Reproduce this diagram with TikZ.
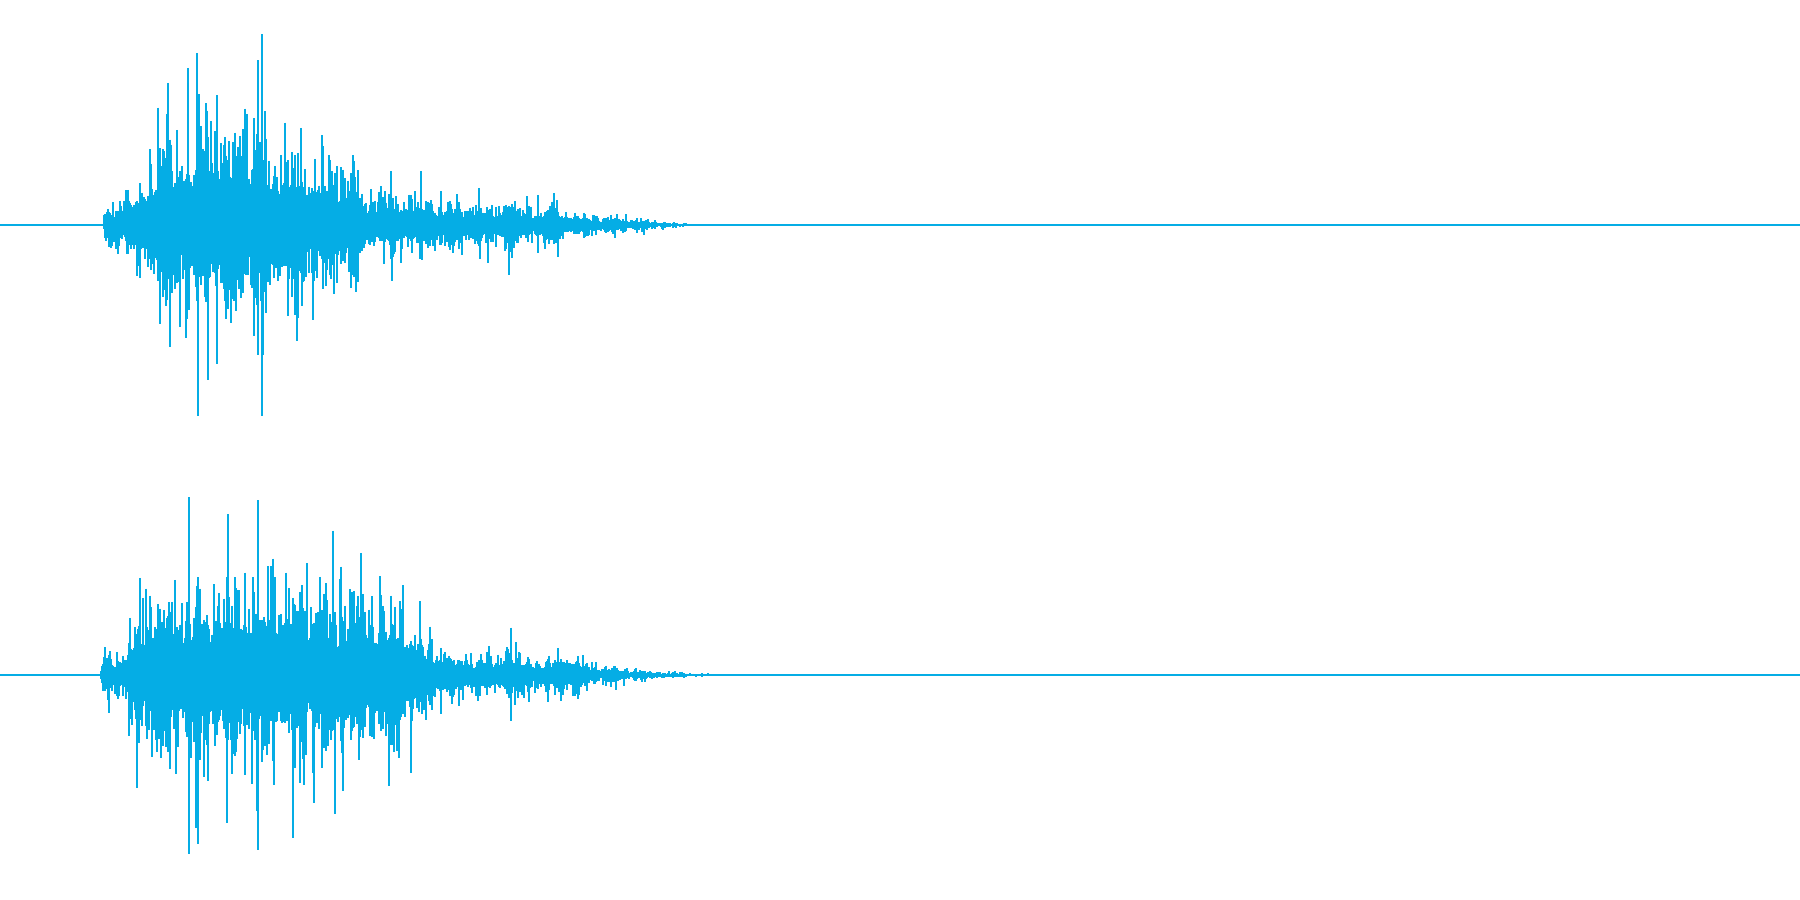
\documentclass[tikz,border=0pt]{standalone}
\usepackage{tikz}
\definecolor{wave}{HTML}{05ADE5}
\tikzset{sample/.style={wave, line width=0.012cm}}
\newcommand{\chan}[2]{% #1 = axis, #2 = envelope breakpoints
  \foreach \xa/\ea/\xb/\eb in {#2}{
    \foreach \x in {\xa,...,\xb}{
      \pgfmathsetmacro{\env}{(\ea+(\eb-\ea)*(\x-\xa)/(\xb-\xa))*(1+0.2*sin(mod(\x,360)*37)+0.15*sin(\x*11.3))}
      \pgfmathsetmacro{\ra}{rnd}
      \pgfmathsetmacro{\rb}{rnd}
      \pgfmathsetmacro{\pa}{\ra*\ra*\ra*\ra*\ra}
      \pgfmathsetmacro{\pb}{\rb*\rb*\rb*\rb*\rb}
      \pgfmathsetmacro{\up}{\env*(0.8+0.6*\ra+0.9*\pa+0.7*\pa*\pa*\pa*\pa)}
      \pgfmathsetmacro{\dn}{\env*(0.8+0.6*\rb+0.9*\pb+0.7*\pb*\pb*\pb*\pb)}
      \draw[sample] (\x,#1-\up) -- (\x,#1+\dn);
    }
  }
}
\begin{document}
\begin{tikzpicture}[x=0.01cm,y=-0.01cm]
\useasboundingbox (0,0) rectangle (1800,900);
\pgfmathsetseed{4711}
% Channel axes
\draw[sample] (0,225) -- (1800,225);
\draw[sample] (0,675) -- (1800,675);
%
% Left channel
\chan{225}{103/0/105/8, 105/8/115/11, 115/11/125/14, 125/14/148/24,
  148/24/150/35, 150/35/180/48, 180/48/258/52, 258/52/270/38,
  270/38/356/30, 356/30/360/16, 360/16/436/13, 436/13/500/10,
  500/10/505/18, 505/18/512/16, 512/16/520/9, 520/9/548/10,
  548/10/556/12, 556/12/565/7, 565/7/600/5, 600/5/640/3,
  640/3/680/1, 680/1/715/0}
\draw[sample] (262,34) -- (262,416);
\draw[sample] (258,60) -- (258,355);
%
% Right channel
\chan{675}{100/0/103/10, 103/10/128/14, 128/14/130/28, 130/28/150/40,
  150/40/200/46, 200/46/300/46, 300/46/330/44, 330/44/390/38,
  390/38/410/30, 410/30/430/16, 430/16/450/11, 450/11/500/10,
  500/10/510/17, 510/17/518/10, 518/10/555/8, 555/8/562/13,
  562/13/570/8, 570/8/578/12, 578/12/585/6, 585/6/620/4,
  620/4/650/2, 650/2/700/1, 700/1/718/0}
\draw[sample] (189,497) -- (189,854);
\draw[sample] (258,500) -- (258,850);
\end{tikzpicture}
\end{document}
